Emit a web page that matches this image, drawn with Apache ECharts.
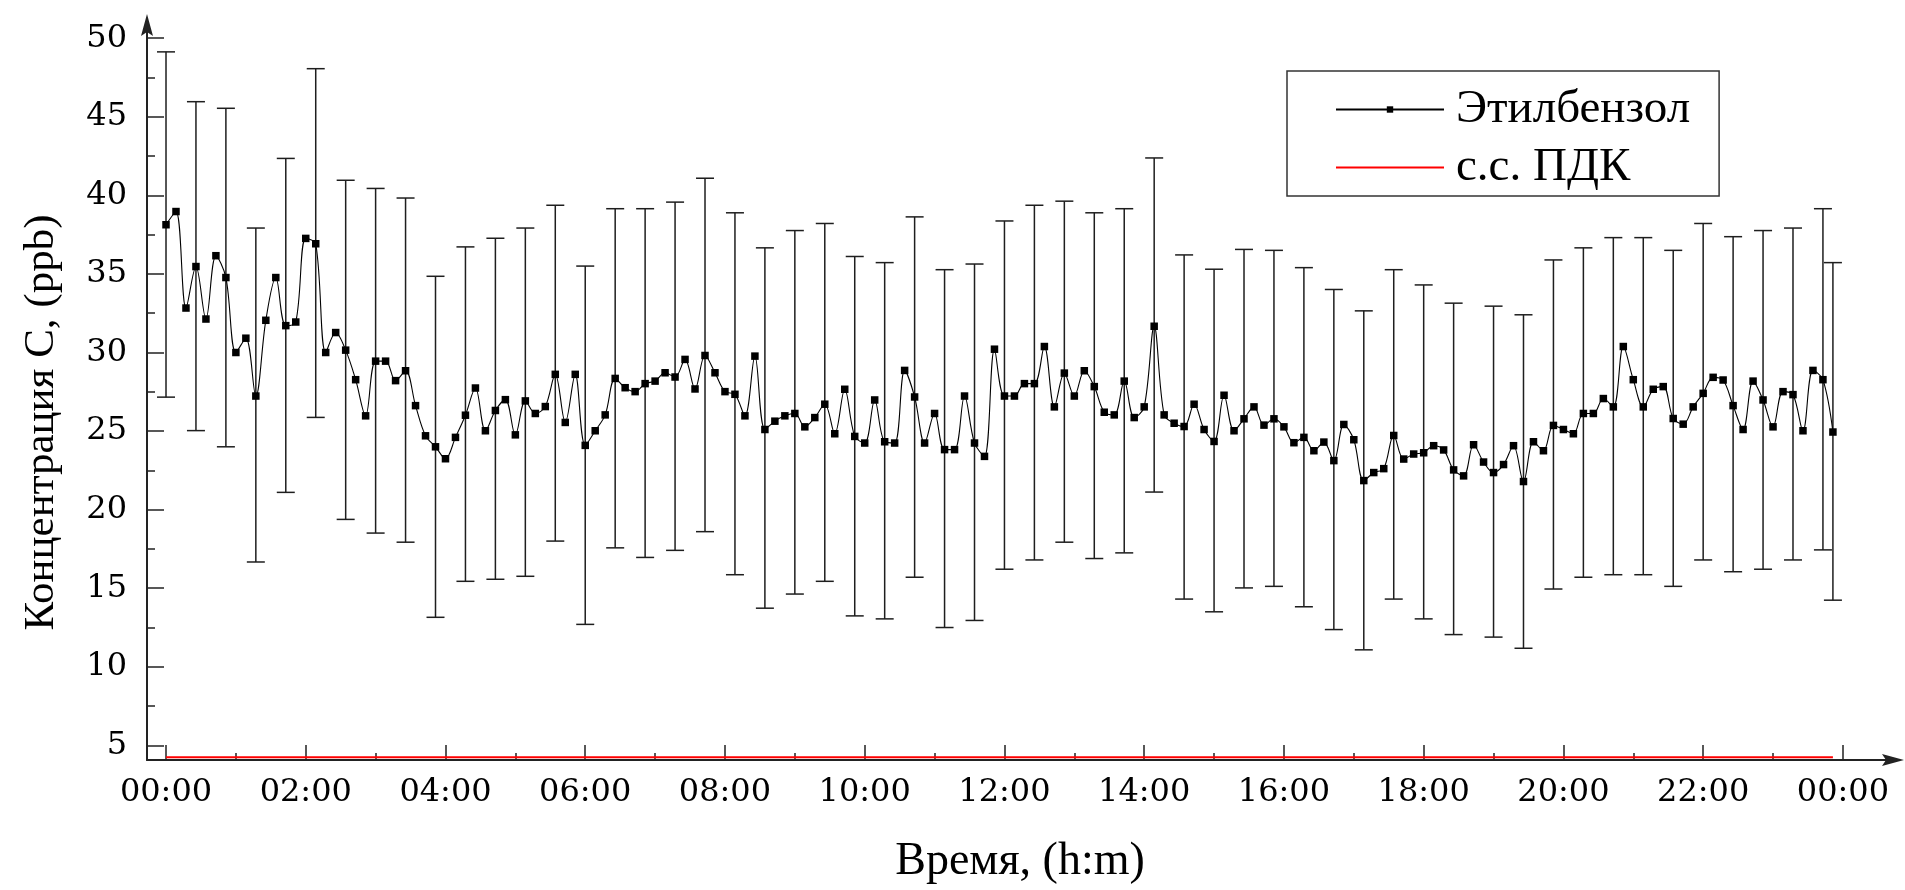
<!DOCTYPE html>
<html><head><meta charset="utf-8">
<script src="https://cdn.jsdelivr.net/npm/echarts@6/dist/echarts.min.js"></script>
<style>html,body{margin:0;padding:0;background:#fff}#chart{width:1905px;height:890px}</style>
</head><body><div id="chart"></div>
<script>
const seriesName = 'Этилбензол';
const limitName = 'с.с. ПДК';
const xAxisTitle = 'Время, (h:m)';
const yAxisTitle = 'Концентрация С, (ppb)';
const samplesPerDay = 168;

const concentration = [
 38.13,38.97,32.83,35.47,32.13,36.16,34.77,30.00,30.91,27.23,
 32.05,34.77,31.71,31.94,37.26,36.92,30.00,31.27,30.15,28.27,
 25.97,29.45,29.45,28.21,28.84,26.62,24.70,24.00,23.24,24.60,
 26.01,27.74,25.02,26.31,27.00,24.76,26.92,26.12,26.56,28.61,
 25.55,28.61,24.09,25.02,26.03,28.35,27.76,27.51,28.02,28.18,
 28.71,28.44,29.56,27.68,29.81,28.71,27.51,27.34,25.97,29.77,
 25.10,25.63,25.97,26.12,25.27,25.86,26.71,24.83,27.66,24.66,
 24.24,26.98,24.32,24.24,28.86,27.17,24.24,26.12,23.82,23.82,
 27.23,24.24,23.39,30.21,27.23,27.23,28.02,28.02,30.38,26.54,
 28.69,27.23,28.84,27.83,26.20,26.03,28.18,25.86,26.54,31.67,
 26.03,25.50,25.29,26.71,25.10,24.34,27.28,25.02,25.78,26.54,
 25.38,25.78,25.27,24.26,24.60,23.75,24.30,23.12,25.42,24.45,
 21.85,22.36,22.61,24.72,23.22,23.54,23.62,24.07,23.80,22.53,
 22.15,24.13,23.03,22.36,22.87,24.07,21.79,24.32,23.75,25.36,
 25.10,24.83,26.12,26.12,27.07,26.54,30.38,28.27,26.54,27.66,
 27.83,25.80,25.44,26.54,27.40,28.42,28.25,26.62,25.10,28.18,
 26.98,25.27,27.51,27.32,25.02,28.86,28.27,24.94
];

const errorIndex = [
 0,3,6,9,12,15,18,21,24,27,30,33,36,39,42,45,48,51,54,57,60,63,66,69,72,75,78,81,84,87,
 90,93,96,99,102,105,108,111,114,117,120,123,126,129,
 133,136,139,142,145,148,151,154,157,160,163,166,167
];
const errorLow = [
 27.16,25.03,24.00,16.67,21.10,25.87,19.38,18.51,17.93,13.15,15.44,15.57,15.76,18.00,12.70,
 17.57,16.96,17.41,18.60,15.86,13.73,14.63,15.44,13.24,13.05,15.70,12.50,12.95,16.21,16.80,
 17.93,16.89,17.25,21.12,14.31,13.50,15.02,15.12,13.82,12.37,11.08,14.31,13.05,12.05,
 11.89,11.18,14.95,15.70,15.86,15.86,15.12,16.80,16.05,16.21,16.80,17.44,14.24
];
const errorHigh = [
 49.13,45.96,45.54,37.92,42.35,48.06,40.96,40.44,39.83,34.85,36.72,37.27,37.92,39.37,35.50,
 39.15,39.15,39.57,41.09,38.89,36.66,37.76,38.21,36.11,35.72,38.63,35.27,35.63,38.37,39.37,
 39.63,38.89,39.15,42.38,36.21,35.30,36.56,36.50,35.40,34.01,32.65,35.27,34.30,33.14,
 32.95,32.40,35.89,36.66,37.31,37.31,36.50,38.21,37.37,37.76,37.92,39.15,35.72
];
const limitValue = 4.25;

const xMajorTicks = [0,2,4,6,8,10,12,14,16,18,20,22,24];
const xMinorTicks = [1,3,5,7,9,11,13,15,17,19,21,23];
const yMajorTicks = [5,10,15,20,25,30,35,40,45,50];
const yMinorTicks = [7.5,12.5,17.5,22.5,27.5,32.5,37.5,42.5,47.5];

const hourOf = i => i * 24 / samplesPerDay;
const pad2 = n => (n < 10 ? '0' : '') + n;
const fmtHour = v => pad2(Math.round(v) % 24) + ':00';

const X_MIN = -0.272, X_MAX = 24.717, Y_MIN = 4.07, Y_MAX = 50.84;
const axisColor = '#222';
const tickFont = 'DejaVu Serif';
const titleFont = 'Liberation Serif';
const arrowPath = 'path://M0,0 L6,22 L0,18 L-6,22 Z';

const chart = echarts.init(document.getElementById('chart'), null, {renderer: 'canvas'});
chart.setOption({
  animation: false,
  backgroundColor: '#fff',
  grid: {left: 147, right: 12, top: 25, bottom: 126.5},
  legend: {
    data: [{name: seriesName}, {name: limitName, itemStyle: {opacity: 0}}],
    orient: 'vertical', left: 1287, top: 71,
    padding: [15, 29, 5, 48], itemGap: 11, itemWidth: 108, itemHeight: 8,
    borderColor: '#333', borderWidth: 1.5, selectedMode: false,
    textStyle: {fontFamily: titleFont, fontSize: 47, color: '#000', lineHeight: 44, padding: [0, 0, 0, 7]}
  },
  xAxis: [{
    type: 'value', min: X_MIN, max: X_MAX, position: 'bottom',
    axisLine: {show: true, onZero: false, lineStyle: {color: axisColor, width: 2}, symbol: ['none', arrowPath], symbolSize: [12, 22]},
    axisTick: {show: true, inside: true, length: 15, customValues: xMajorTicks, lineStyle: {color: axisColor, width: 1.5}},
    axisLabel: {customValues: xMajorTicks, formatter: fmtHour, margin: 33, verticalAlign: 'middle', fontFamily: tickFont, fontSize: 32, color: '#000'},
    splitLine: {show: false},
    name: xAxisTitle, nameLocation: 'middle', nameGap: 102,
    nameTextStyle: {fontFamily: titleFont, fontSize: 46, color: '#000', verticalAlign: 'middle'}
  }, {
    type: 'value', min: X_MIN, max: X_MAX, position: 'bottom',
    axisLine: {show: false, onZero: false},
    axisTick: {show: true, inside: true, length: 7, customValues: xMinorTicks, lineStyle: {color: axisColor, width: 1.5}},
    axisLabel: {show: false}, splitLine: {show: false}
  }],
  yAxis: [{
    type: 'value', min: Y_MIN, max: Y_MAX, position: 'left',
    axisLine: {show: true, onZero: false, lineStyle: {color: axisColor, width: 2}, symbol: ['none', arrowPath], symbolSize: [12, 22]},
    axisTick: {show: true, inside: true, length: 17, customValues: yMajorTicks, lineStyle: {color: axisColor, width: 1.5}},
    axisLabel: {customValues: yMajorTicks, margin: 20, fontFamily: tickFont, fontSize: 32, color: '#000'},
    splitLine: {show: false},
    name: yAxisTitle, nameLocation: 'middle', nameGap: 105,
    nameTextStyle: {fontFamily: titleFont, fontSize: 43, color: '#000', verticalAlign: 'middle', padding: [0, 60, 0, 0]}
  }, {
    type: 'value', min: Y_MIN, max: Y_MAX, position: 'left',
    axisLine: {show: false, onZero: false},
    axisTick: {show: true, inside: true, length: 8, customValues: yMinorTicks, lineStyle: {color: axisColor, width: 1.5}},
    axisLabel: {show: false}, splitLine: {show: false}
  }],
  series: [{
    name: 'errors', type: 'custom', xAxisIndex: 0, yAxisIndex: 0, z: 2,
    data: errorIndex.map((k, j) => [hourOf(k), errorLow[j], errorHigh[j]]),
    encode: {x: 0, y: [1, 2]},
    renderItem: function (params, api) {
      const x = api.value(0);
      const pLo = api.coord([x, api.value(1)]);
      const pHi = api.coord([x, api.value(2)]);
      const hw = 9;
      const style = {stroke: '#1e1e1e', lineWidth: 1.5, fill: null};
      return {type: 'group', children: [
        {type: 'line', shape: {x1: pLo[0], y1: pLo[1], x2: pHi[0], y2: pHi[1]}, style: style},
        {type: 'line', shape: {x1: pLo[0] - hw, y1: pLo[1], x2: pLo[0] + hw, y2: pLo[1]}, style: style},
        {type: 'line', shape: {x1: pHi[0] - hw, y1: pHi[1], x2: pHi[0] + hw, y2: pHi[1]}, style: style}
      ]};
    }
  }, {
    name: seriesName, type: 'line', z: 3,
    data: concentration.map((v, i) => [hourOf(i), v]),
    symbol: 'rect', symbolSize: 7.5, smooth: 0.35,
    lineStyle: {color: '#000', width: 1.1}, itemStyle: {color: '#000'}
  }, {
    name: limitName, type: 'line', z: 3,
    data: [[hourOf(0), limitValue], [hourOf(concentration.length - 1), limitValue]],
    symbol: 'none', lineStyle: {color: '#ff0000', width: 2}, itemStyle: {color: '#ff0000'}
  }]
});
</script>
</body></html>
